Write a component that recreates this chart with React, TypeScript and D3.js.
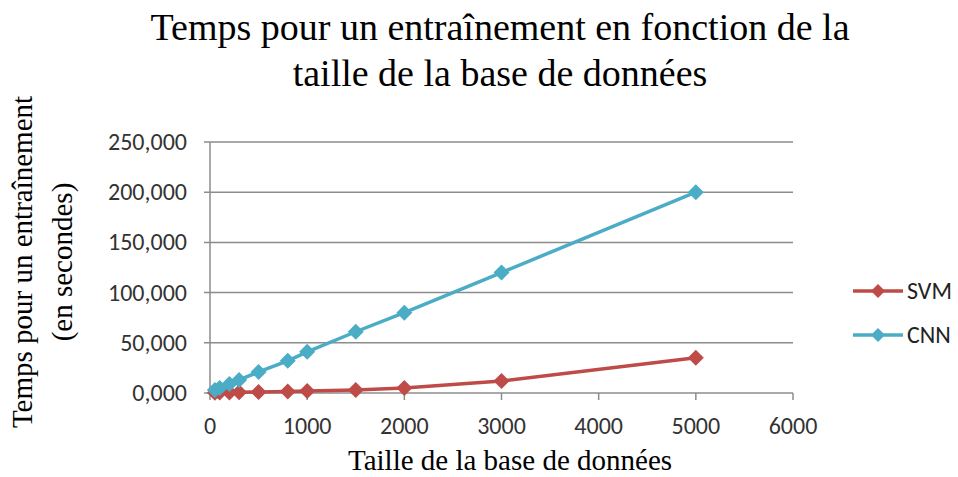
import React from "react";
import * as d3 from "d3";

const sizes = [50, 100, 200, 300, 500, 800, 1000, 1500, 2000, 3000, 5000];
const cnnValues = [3, 5, 9, 13, 21, 32, 41, 61, 80, 120, 200];
const svmValues = [0.2, 0.4, 0.6, 0.8, 1, 1.5, 2, 3, 5, 12, 35];
const seriesNames = ["SVM", "CNN"];
const xTicks = [0, 1000, 2000, 3000, 4000, 5000, 6000];
const yTicks = [0, 50, 100, 150, 200, 250];
const colors = { SVM: "#be4b48", CNN: "#4bacc6" };

export default function App() {
  const W = 958, H = 477;
  const x = d3.scaleLinear().domain([0, 6000]).range([210, 793]);
  const y = d3.scaleLinear().domain([0, 250]).range([393, 142]);
  const line = d3.line<[number, number]>().x(d => x(d[0])).y(d => y(d[1]));
  const series = [
    { name: "SVM", vals: svmValues, color: colors.SVM },
    { name: "CNN", vals: cnnValues, color: colors.CNN },
  ];
  const diamond = (cx: number, cy: number, r: number) =>
    `M${cx},${cy - r}L${cx + r},${cy}L${cx},${cy + r}L${cx - r},${cy}Z`;
  const fmt = (v: number) => d3.format(".3f")(v).replace(".", ",");
  const sans = "Carlito, 'Open Sans', 'Liberation Sans', sans-serif";
  const serif = "'Liberation Serif', 'Times New Roman', serif";
  return (
    <svg width={W} height={H} style={{ position: "absolute", left: 0, top: 0, background: "#fff" }}>
      <text x={500} y={40} textAnchor="middle" fontFamily={serif} fontSize={38} fill="#000">
        Temps pour un entraînement en fonction de la
      </text>
      <text x={500} y={86} textAnchor="middle" fontFamily={serif} fontSize={38} fill="#000">
        taille de la base de données
      </text>
      {yTicks.map(t => (
        <g key={t}>
          <line x1={204} x2={793} y1={y(t)} y2={y(t)} stroke="#8c8c8c" strokeWidth={1.5} />
          <text x={187} y={y(t) + 8} textAnchor="end" fontFamily={sans} fontSize={24} fill="#333">
            {fmt(t)}
          </text>
        </g>
      ))}
      <line x1={210} x2={210} y1={142} y2={393} stroke="#8c8c8c" strokeWidth={1.5} />
      {xTicks.map(t => (
        <g key={t}>
          <line x1={x(t)} x2={x(t)} y1={393} y2={400} stroke="#8c8c8c" strokeWidth={1.5} />
          <text x={x(t)} y={434} textAnchor="middle" fontFamily={sans} fontSize={24} fill="#333">
            {t}
          </text>
        </g>
      ))}
      {series.map(s => {
        const pts = sizes.map((v, i) => [v, s.vals[i]] as [number, number]);
        return (
          <g key={s.name}>
            <path d={line(pts) || ""} fill="none" stroke={s.color} strokeWidth={3.5} />
            {pts.map((p, i) => (
              <path key={i} d={diamond(x(p[0]), y(p[1]), 8)} fill={s.color} />
            ))}
          </g>
        );
      })}
      {seriesNames.map((n, i) => {
        const c = (colors as any)[n];
        const ly = 291 + i * 44;
        return (
          <g key={n}>
            <line x1={853} x2={903} y1={ly} y2={ly} stroke={c} strokeWidth={3.5} />
            <path d={diamond(878, ly, 7)} fill={c} />
            <text x={907} y={ly + 8} fontFamily={sans} fontSize={24} fill="#222">
              {n}
            </text>
          </g>
        );
      })}
      <text
        transform="translate(32,262) rotate(-90)"
        textAnchor="middle"
        fontFamily={serif}
        fontSize={29}
        fill="#000"
      >
        Temps pour un entraînement
      </text>
      <text
        transform="translate(72,262) rotate(-90)"
        textAnchor="middle"
        fontFamily={serif}
        fontSize={29}
        fill="#000"
      >
        (en secondes)
      </text>
      <text x={510} y={470} textAnchor="middle" fontFamily={serif} fontSize={29} fill="#000">
        Taille de la base de données
      </text>
    </svg>
  );
}
